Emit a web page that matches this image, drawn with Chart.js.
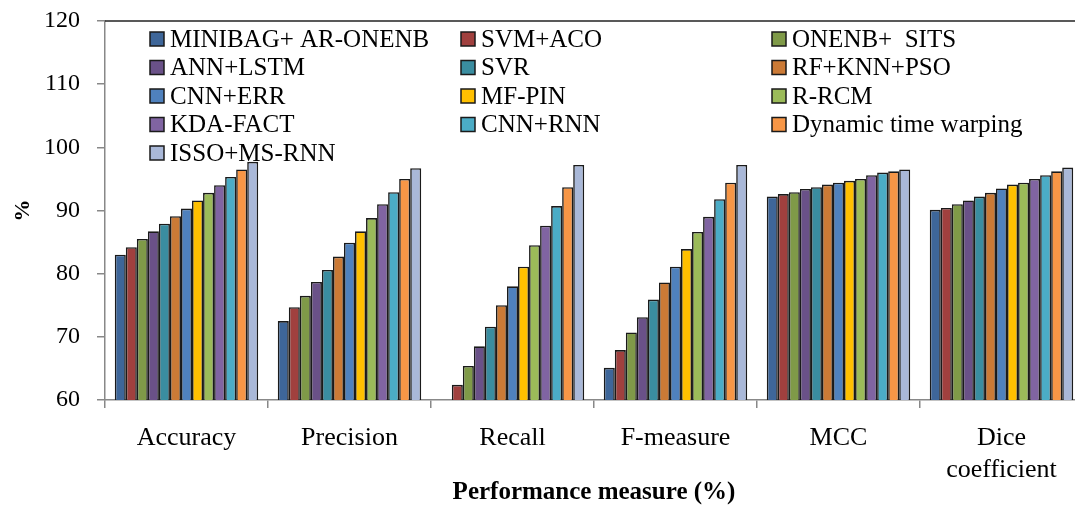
<!DOCTYPE html>
<html>
<head>
<meta charset="utf-8">
<script src="https://cdn.jsdelivr.net/npm/chart.js@4.4.1/dist/chart.umd.min.js"></script>
<style>
  html, body { margin: 0; padding: 0; background: #fff; overflow: hidden; }
  #wrap { width: 1086px; height: 508px; }
</style>
</head>
<body>
<div id="wrap"><canvas id="c" width="1086" height="508"></canvas></div>
<script>
// Performance measures on the x axis
const categories = ['Accuracy', 'Precision', 'Recall', 'F-measure', 'MCC', ['Dice', 'coefficient']];

// Scores (%) per method, in category order
const minibagArOnenb = [83.0, 72.5, 60.0, 65.1, 92.2, 90.1];
const svmAco         = [84.2, 74.7, 62.4, 67.9, 92.6, 90.4];
const onenbSits      = [85.5, 76.5, 65.4, 70.7, 92.9, 91.0];
const annLstm        = [86.7, 78.7, 68.5, 73.1, 93.4, 91.6];
const svr            = [87.9, 80.6, 71.6, 75.9, 93.7, 92.2];
const rfKnnPso       = [89.1, 82.7, 75.0, 78.6, 94.1, 92.8];
const cnnErr         = [90.3, 84.9, 78.0, 81.1, 94.4, 93.5];
const mfPin          = [91.6, 86.7, 81.1, 83.9, 94.7, 94.1];
const rRcm           = [92.8, 88.8, 84.5, 86.6, 95.0, 94.4];
const kdaFact        = [94.0, 91.0, 87.6, 89.0, 95.6, 95.0];
const cnnRnn         = [95.3, 92.9, 90.7, 91.8, 96.0, 95.6];
const dynTimeWarp    = [96.5, 95.0, 93.7, 94.4, 96.2, 96.2];
const issoMsRnn      = [97.7, 96.7, 97.2, 97.2, 96.5, 96.8];

// Y axis range and step
const yMin = 60, yMax = 120, yStep = 10;

const seriesNames = ['MINIBAG+ AR-ONENB', 'SVM+ACO', 'ONENB+  SITS', 'ANN+LSTM', 'SVR', 'RF+KNN+PSO',
  'CNN+ERR', 'MF-PIN', 'R-RCM', 'KDA-FACT', 'CNN+RNN', 'Dynamic time warping', 'ISSO+MS-RNN'];
const seriesValues = [minibagArOnenb, svmAco, onenbSits, annLstm, svr, rfKnnPso,
  cnnErr, mfPin, rRcm, kdaFact, cnnRnn, dynTimeWarp, issoMsRnn];
const seriesColors = ['#3E6699', '#A0403E', '#7F9A48', '#6A5188', '#3A8DA0', '#CB7A36',
  '#4F81BD', '#FFC000', '#9BBB59', '#8064A2', '#4BACC6', '#F79646', '#A9B8D8'];

const FONT = '"Liberation Serif", "Times New Roman", serif';

// Three-column legend inside the plot area, plus the frame line along the top
const legendGrid = {
  id: 'legendGrid',
  beforeDatasetsDraw(chart) {
    const ctx = chart.ctx;
    const colX = [150, 461, 772];
    const rowY = [39, 67.5, 96, 124.5, 153];
    const box = 14;
    ctx.save();
    ctx.font = '25px ' + FONT;
    ctx.textBaseline = 'middle';
    ctx.textAlign = 'left';
    chart.data.datasets.forEach((ds, i) => {
      const x = colX[i % 3];
      const y = rowY[Math.floor(i / 3)];
      ctx.fillStyle = ds.backgroundColor;
      ctx.fillRect(x, y - box / 2, box, box);
      ctx.lineWidth = 1.5;
      ctx.strokeStyle = '#1a1a1a';
      ctx.strokeRect(x, y - box / 2, box, box);
      ctx.fillStyle = '#000';
      ctx.fillText(ds.label, x + box + 6, y + 1);
    });
    ctx.restore();
  },
  afterDraw(chart) {
    const a = chart.chartArea;
    const ctx = chart.ctx;
    ctx.save();
    ctx.strokeStyle = '#222';
    ctx.lineWidth = 1.5;
    ctx.beginPath();
    ctx.moveTo(a.left, a.top);
    ctx.lineTo(a.right, a.top);
    ctx.stroke();
    ctx.restore();
  }
};

new Chart(document.getElementById('c'), {
  type: 'bar',
  data: {
    labels: categories,
    datasets: seriesNames.map((name, i) => ({
      label: name,
      data: seriesValues[i],
      backgroundColor: seriesColors[i],
      borderColor: '#1a1a1a',
      borderWidth: 1.6,
      borderSkipped: false,
      categoryPercentage: 0.88,
      barPercentage: 1.0
    }))
  },
  options: {
    responsive: false,
    animation: false,
    layout: { padding: { top: 21, right: 3, left: 0, bottom: 0 } },
    plugins: { legend: { display: false }, tooltip: { enabled: false } },
    scales: {
      x: {
        offset: true,
        grid: { offset: true, drawOnChartArea: false, drawTicks: true, tickLength: 8, color: '#888', lineWidth: 1.5 },
        border: { display: true, color: '#888', width: 1.5 },
        ticks: { color: '#000', font: { family: FONT, size: 26 }, padding: 15, maxRotation: 0, autoSkip: false },
        title: { display: true, text: 'Performance measure (%)', color: '#000',
                 font: { family: FONT, size: 25, weight: 'bold' }, padding: { top: 0, bottom: 0 } },
        afterFit(scale) { scale.height = 108; scale.paddingLeft = 0; scale.paddingRight = 0; }
      },
      y: {
        min: yMin, max: yMax,
        grid: { drawOnChartArea: false, drawTicks: true, tickLength: 8, color: '#888', lineWidth: 1.5 },
        border: { display: true, color: '#888', width: 1.5 },
        ticks: { stepSize: yStep, color: '#000', font: { family: FONT, size: 24 }, padding: 17 },
        title: { display: true, text: '%', color: '#000',
                 font: { family: FONT, size: 22, weight: 'bold' }, padding: { top: 10, bottom: 0 } },
        afterFit(scale) { scale.width = 105; scale.paddingTop = 0; scale.paddingBottom = 0; }
      }
    }
  },
  plugins: [legendGrid]
});
</script>
</body>
</html>
